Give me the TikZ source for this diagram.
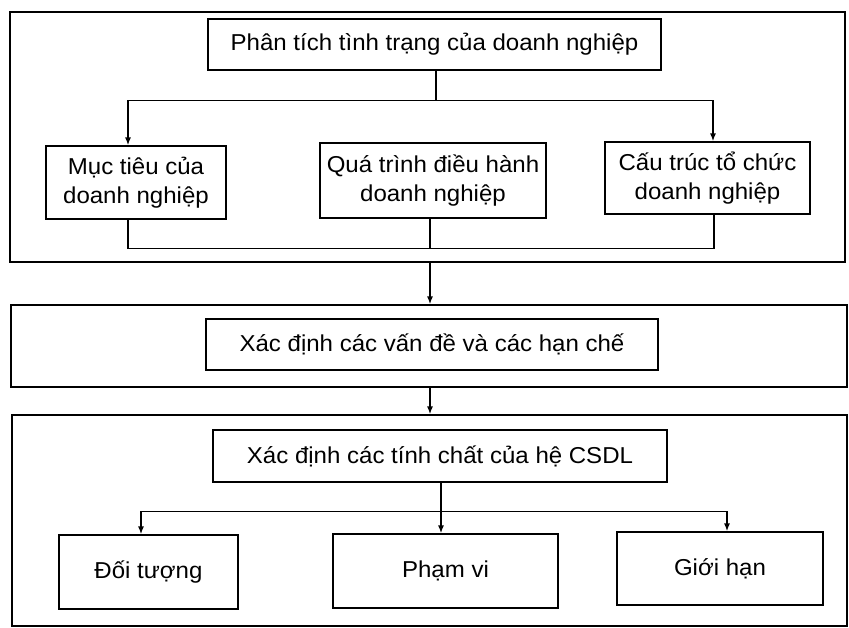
\documentclass[tikz,border=0pt]{standalone}
\usepackage{fontspec}
\setmainfont[FakeStretch=1.045]{Liberation Sans}
\usetikzlibrary{arrows.meta,calc}
\begin{document}
\begin{tikzpicture}[x=1pt,y=-1pt,
  box/.style={draw=black,line width=1.1pt,inner sep=0pt,align=center,
    font=\fontsize{23}{29}\selectfont},
  frame/.style={draw=black,line width=1.1pt,inner sep=0pt},
  link/.style={draw=black,line width=1.1pt},
  arr/.style={draw=black,line width=1.7pt,-{Latex[length=8pt,width=6pt]}}
]
\useasboundingbox (0,0) rectangle (849,627);
% frames
\node[frame,minimum width=835pt,minimum height=250pt] (outerA) at (427.5,137) {};
\node[frame,minimum width=836pt,minimum height=82pt] (outerB) at (429,346) {};
\node[frame,minimum width=835pt,minimum height=211pt] (outerC) at (429.5,520.5) {};
% first block
\node[box,minimum width=453pt,minimum height=51pt] (top) at (434.5,44.5) {Phân tích tình trạng của doanh nghiệp};
\node[box,minimum width=180pt,minimum height=73pt] (goal) at (136,182.5) {Mục tiêu của\\doanh nghiệp};
\node[box,minimum width=226pt,minimum height=75pt] (proc) at (433,180.5) {Quá trình điều hành\\doanh nghiệp};
\node[box,minimum width=205pt,minimum height=72pt] (struct) at (707.5,178) {Cấu trúc tổ chức\\doanh nghiệp};
% second block
\node[box,minimum width=452pt,minimum height=51pt] (prob) at (432,344.5) {Xác định các vấn đề và các hạn chế};
% third block
\node[box,minimum width=454pt,minimum height=52pt] (prop) at (440,456) {Xác định các tính chất của hệ CSDL};
\node[box,minimum width=179pt,minimum height=74pt] (obj) at (148.5,572) {Đối tượng};
\node[box,minimum width=225pt,minimum height=74pt] (scope) at (445.5,571) {Phạm vi};
\node[box,minimum width=206pt,minimum height=73pt] (limit) at (720,568.5) {Giới hạn};
% connectors, first block
\coordinate (j1) at ($(top.south)+(1.5,30)$);
\draw[link] ([xshift=1.5pt]top.south) -- (j1);
\draw[arr] (j1) -| ([xshift=-8pt]goal.north);
\draw[arr] (j1) -| ([xshift=5.5pt]struct.north);
\coordinate (j2) at ($(proc.south)+(-3,30)$);
\draw[link] ([xshift=-8pt]goal.south) |- (j2);
\draw[link] ([xshift=-3pt]proc.south) -- (j2);
\draw[link] ([xshift=6.5pt]struct.south) |- (j2);
% between frames
\draw[arr] ([xshift=2.5pt]outerA.south) -- ([xshift=1pt]outerB.north);
\draw[arr] ([xshift=1pt]outerB.south) -- ([xshift=0.5pt]outerC.north);
% third block connectors
\coordinate (j3) at ($(prop.south)+(1,29)$);
\draw[link] ([xshift=1pt]prop.south) -- (j3);
\draw[arr] (j3) -| ([xshift=-7.5pt]obj.north);
\draw[arr] (j3) -- ([xshift=-4.5pt]scope.north);
\draw[arr] (j3) -| ([xshift=7pt]limit.north);
\end{tikzpicture}
\end{document}
